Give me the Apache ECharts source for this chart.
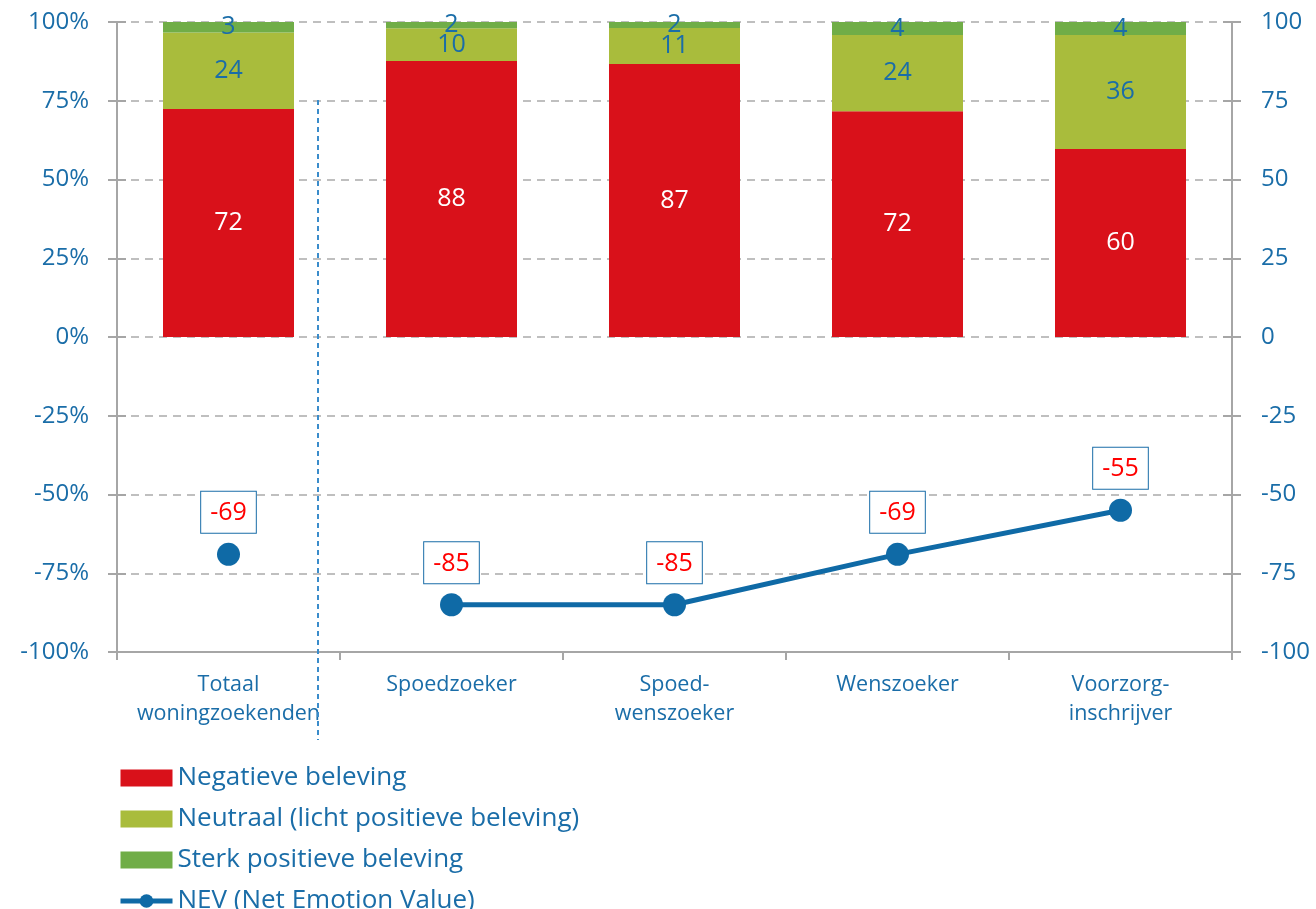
<!DOCTYPE html>
<html><head><meta charset="utf-8">
<script src="https://cdn.jsdelivr.net/npm/echarts@6/dist/echarts.min.js"></script>
<style>html,body{margin:0;padding:0;background:#fff}#c{width:1316px;height:909px}</style>
</head><body><div id="c"></div>
<script>
const categories = ['Totaal\nwoningzoekenden', 'Spoedzoeker', 'Spoed-\nwenszoeker', 'Wenszoeker', 'Voorzorg-\ninschrijver'];
const negatief = [72.4, 87.6, 86.7, 71.7, 59.7];
const neutraal = [24.3, 10.4, 11.4, 24.2, 36.2];
const sterk = [3.3, 2.0, 1.9, 4.1, 4.1];
const nevTotaal = [-69, null, null, null, null];
const nevGroepen = [null, -85, -85, -69, -55];
const leftTicks = { min: -100, max: 100, interval: 25 };

const BLUE = '#1a6da8';
const LINE = '#0f6aa6';
const GRAY = '#a6a6a6';
const FONT = 'Open Sans';
const chart = echarts.init(document.getElementById('c'));
const nevLabel = {
  show: true, position: 'top', distance: 10,
  color: '#ff0000', fontSize: 25, fontFamily: FONT,
  backgroundColor: '#fff', borderColor: BLUE, borderWidth: 1,
  padding: [9, 9, 7, 9],
  formatter: p => p.value
};
const tickAxis = (pos) => ({
  type: 'value', min: leftTicks.min, max: leftTicks.max, interval: leftTicks.interval,
  position: pos,
  axisLine: { show: false },
  axisTick: { show: true, inside: true, length: 9, lineStyle: { color: GRAY, width: 2 } },
  axisLabel: { show: false },
  splitLine: { show: false }
});
chart.setOption({
  animation: false,
  textStyle: { fontFamily: FONT },
  grid: { left: 117, right: 84, top: 22, bottom: 257 },
  legend: {
    orient: 'vertical', left: 113, top: 760, height: 200,
    itemWidth: 52, itemHeight: 17, itemGap: 15,
    textStyle: { color: BLUE, fontSize: 26, fontFamily: FONT },
    data: [
      { name: 'Negatieve beleving', icon: 'rect' },
      { name: 'Neutraal (licht positieve beleving)', icon: 'rect' },
      { name: 'Sterk positieve beleving', icon: 'rect' },
      { name: 'NEV (Net Emotion Value)', lineStyle: { width: 5, color: LINE }, itemStyle: { color: LINE } }]
  },
  xAxis: {
    type: 'category', data: categories,
    position: 'bottom',
    axisLine: { onZero: false, lineStyle: { color: GRAY, width: 2 } },
    axisTick: { show: true, interval: 0, length: 8, lineStyle: { color: GRAY, width: 2 } },
    axisLabel: { interval: 0, color: BLUE, fontSize: 21.5, fontFamily: FONT, lineHeight: 29, margin: 18 }
  },
  yAxis: [{
    type: 'value', min: leftTicks.min, max: leftTicks.max, interval: leftTicks.interval,
    axisLine: { show: true, lineStyle: { color: GRAY, width: 2 } },
    axisTick: { show: true, length: 9, lineStyle: { color: GRAY, width: 2 } },
    axisLabel: { color: BLUE, fontSize: 24, fontFamily: FONT, formatter: '{value}%', margin: 28 },
    splitLine: { lineStyle: { color: '#bfbfbf', type: [8, 6], width: 2 } }
  }, {
    type: 'value', min: leftTicks.min, max: leftTicks.max, interval: leftTicks.interval,
    position: 'right',
    axisLine: { show: true, lineStyle: { color: GRAY, width: 2 } },
    axisTick: { show: true, length: 9, lineStyle: { color: GRAY, width: 2 } },
    axisLabel: { color: BLUE, fontSize: 24, fontFamily: FONT, margin: 29 },
    splitLine: { show: false }
  }, tickAxis('left'), tickAxis('right')],
  series: [
    {
      name: 'Negatieve beleving', type: 'bar', stack: 's', data: negatief,
      barWidth: 131, itemStyle: { color: '#d9111a' },
      label: { show: true, position: 'inside', color: '#fff', fontSize: 25, fontFamily: FONT, formatter: p => Math.round(p.value) }
    },
    {
      name: 'Neutraal (licht positieve beleving)', type: 'bar', stack: 's', data: neutraal,
      barWidth: 131, itemStyle: { color: '#a9bc3c' },
      label: { show: true, position: 'inside', color: BLUE, fontSize: 25, fontFamily: FONT, formatter: p => Math.round(p.value) }
    },
    {
      name: 'Sterk positieve beleving', type: 'bar', stack: 's', data: sterk,
      barWidth: 131, itemStyle: { color: '#70ad47' },
      label: { show: true, position: 'inside', color: BLUE, fontSize: 25, fontFamily: FONT, formatter: p => Math.round(p.value) }
    },
    {
      name: 'NEV (Net Emotion Value)', type: 'line', yAxisIndex: 1, data: nevGroepen,
      symbol: 'circle', symbolSize: 23, connectNulls: false,
      lineStyle: { color: LINE, width: 5 }, itemStyle: { color: LINE },
      label: nevLabel, z: 5
    },
    {
      name: 'NEV (Net Emotion Value)', type: 'line', yAxisIndex: 1, data: nevTotaal,
      symbol: 'circle', symbolSize: 23, showAllSymbol: true,
      lineStyle: { color: LINE, width: 5 }, itemStyle: { color: LINE },
      label: nevLabel, z: 5
    }
  ],
  graphic: [{
    type: 'line', shape: { x1: 318, y1: 100, x2: 318, y2: 740 },
    style: { stroke: '#3a8ccb', lineWidth: 2, lineDash: [5, 4] }, z: 10
  }]
});
</script></body></html>
